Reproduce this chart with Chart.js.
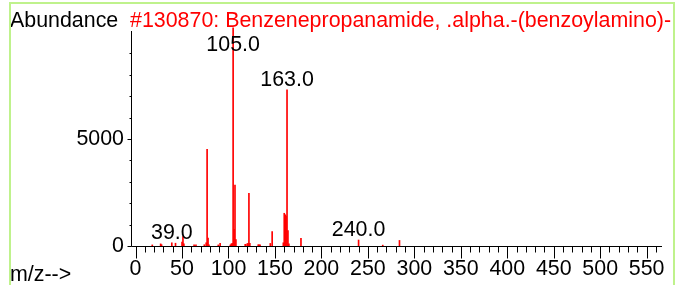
<!DOCTYPE html>
<html>
<head>
<meta charset="utf-8">
<script src="https://cdn.jsdelivr.net/npm/chart.js@4/dist/chart.umd.min.js"></script>
<style>
  html, body { margin: 0; padding: 0; background: #fff; }
</style>
</head>
<body>
<canvas id="spectrum" width="677" height="285"></canvas>
<script>
// =====================
// Spectrum data (m/z vs abundance)
// =====================
const mz = [18, 27, 28, 39, 43, 50, 51, 52, 63, 65, 74, 76, 77, 78, 79, 89, 91,
  102, 103, 104, 105, 106, 107, 108, 118, 120, 121, 122, 123, 132, 133, 134,
  145, 147, 159, 160, 161, 162, 163, 164, 165, 178, 240, 266, 284];
const abundance = [50, 100, 60, 150, 130, 180, 440, 100, 60, 50, 60, 150, 4520, 370, 60, 50, 120,
  50, 100, 120, 10200, 780, 2850, 300, 80, 100, 120, 2460, 130, 60, 60, 50,
  120, 670, 150, 1530, 1460, 1400, 7300, 720, 100, 360, 280, 40, 260];
const labeledPeaks = [39, 105, 163, 240];
const xTickLabels = [0, 50, 100, 150, 200, 250, 300, 350, 400, 450, 500, 550];
const yTickLabels = [0, 5000];

const titleText = "#130870: Benzenepropanamide, .alpha.-(benzoylamino)-";
const FONT = "21.4px 'Liberation Sans', Arial, sans-serif";

// =====================
// Axes, labels and frame drawn from the chart's own scales
// =====================
const spectrumDecor = {
  id: "spectrumDecor",
  afterDatasetsDraw(chart) {
    const c = chart.ctx;
    const area = chart.chartArea;
    const xs = chart.scales.x;
    const ys = chart.scales.y;
    const y0 = Math.round(ys.getPixelForValue(0)) + 0.5;
    const xAxis = Math.round(area.left) + 0.5;

    c.save();
    c.strokeStyle = "#000";
    c.lineWidth = 1;

    // axis lines
    c.beginPath();
    c.moveTo(xAxis, area.top);
    c.lineTo(xAxis, y0);
    c.lineTo(area.right, y0);
    c.stroke();

    // x ticks every 10, long every 50
    c.beginPath();
    for (let v = 0; v <= 560; v += 10) {
      const px = Math.round(xs.getPixelForValue(v)) + 0.5;
      const len = v % 50 === 0 ? 12 : 6;
      c.moveTo(px, y0);
      c.lineTo(px, y0 + len);
    }
    // y ticks every 1000, long at labelled ones
    for (let v = 0; v < 10000; v += 1000) {
      const py = Math.round(ys.getPixelForValue(v)) + 0.5;
      const len = yTickLabels.includes(v) ? 4 : 2;
      c.moveTo(xAxis, py);
      c.lineTo(xAxis - len, py);
    }
    c.stroke();

    c.font = FONT;
    c.fillStyle = "#000";

    // x tick labels
    c.textAlign = "center";
    c.textBaseline = "alphabetic";
    xTickLabels.forEach(v => {
      c.fillText(String(v), xs.getPixelForValue(v), 275);
    });

    // y tick labels
    c.textAlign = "right";
    c.textBaseline = "middle";
    yTickLabels.forEach(v => {
      c.fillText(String(v), 124, ys.getPixelForValue(v));
    });

    // peak labels
    c.textAlign = "center";
    c.textBaseline = "alphabetic";
    labeledPeaks.forEach(m => {
      const i = mz.indexOf(m);
      const py = ys.getPixelForValue(abundance[i]);
      const base = Math.max(py - 4, area.top + 20);
      c.fillText(m.toFixed(1), xs.getPixelForValue(m), base);
    });

    // header texts
    c.textAlign = "left";
    c.fillText("Abundance", 10, 27);
    c.fillText("m/z-->", 10, 281);
    c.fillStyle = "#ff0000";
    c.fillText(titleText, 130, 27);

    // green frame
    c.strokeStyle = "#bff28c";
    c.lineWidth = 2;
    c.beginPath();
    c.moveTo(10, 285);
    c.lineTo(10, 3);
    c.lineTo(674, 3);
    c.lineTo(674, 285);
    c.stroke();

    c.restore();
  }
};

// =====================
// Chart.js spectrum
// =====================
const ctx = document.getElementById("spectrum");
new Chart(ctx, {
  type: "bar",
  data: {
    datasets: [
      {
        data: mz.map((m, i) => ({ x: m, y: abundance[i] })),
        backgroundColor: "#ff0000",
        borderWidth: 0,
        barThickness: 1,
        grouped: false,
        clip: false
      }
    ]
  },
  options: {
    responsive: false,
    animation: false,
    devicePixelRatio: 1,
    layout: { padding: { left: 131, right: 15, top: 31, bottom: 39 } },
    plugins: {
      legend: { display: false },
      tooltip: { enabled: false }
    },
    scales: {
      x: { type: "linear", min: -4.9, max: 566.5, offset: false, display: false },
      y: { min: 0, max: 10050, display: false }
    }
  },
  plugins: [spectrumDecor]
});
</script>
</body>
</html>
